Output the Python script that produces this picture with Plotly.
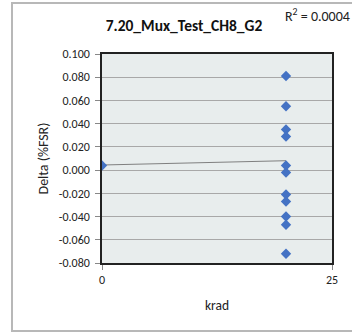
import plotly.graph_objects as go

# Data
krad_x = [0, 20, 20, 20, 20, 20, 20, 20, 20, 20, 20, 20]
delta_y = [0.004, 0.081, 0.055, 0.035, 0.029, 0.004, -0.002, -0.021, -0.027, -0.040, -0.047, -0.072]
trend_x = [0, 20]
trend_y = [0.0044, 0.0081]
y_ticks = [-0.08, -0.06, -0.04, -0.02, 0.0, 0.02, 0.04, 0.06, 0.08, 0.10]
x_ticks = [0, 25]
title_text = "7.20_Mux_Test_CH8_G2"
r2_text = "R<sup>2</sup> = 0.0004"

FONT = "Carlito, Lato, 'Open Sans', sans-serif"

fig = go.Figure()
fig.add_trace(go.Scatter(x=trend_x, y=trend_y, mode="lines",
                         line=dict(color="#7F7F7F", width=1), showlegend=False, hoverinfo="skip"))
fig.add_trace(go.Scatter(x=krad_x, y=delta_y, mode="markers",
                         marker=dict(symbol="diamond", size=8, color="#4472C4"), showlegend=False))

fig.update_layout(
    width=352, height=333,
    margin=dict(l=102, r=20, t=54, b=70),
    paper_bgcolor="white", plot_bgcolor="#E8EDED",
    font=dict(family=FONT, size=12, color="#222222"),
    title=dict(text="<b>" + title_text + "</b>", x=184 / 352, xanchor="center",
               y=1 - 26 / 333, yanchor="middle", font=dict(size=15.5, color="#111111")),
    xaxis=dict(range=[0, 25], tickvals=x_ticks, ticktext=[str(v) for v in x_ticks],
               showgrid=False, zeroline=False, showline=True, linecolor="#222222", linewidth=1.5,
               mirror=True, ticks="outside", ticklen=5, tickcolor="#888888",
               title=dict(text="krad", font=dict(size=13.5, color="#222222"), standoff=14)),
    yaxis=dict(range=[-0.08, 0.10], tickvals=y_ticks, ticktext=["%.3f" % v for v in y_ticks],
               showgrid=True, gridcolor="#A8A8A8", gridwidth=1, zeroline=False,
               showline=True, linecolor="#222222", linewidth=1.5, mirror=True,
               ticks="outside", ticklen=5, tickcolor="#888888", ticklabelstandoff=3,
               title=dict(text="Delta (%FSR)", font=dict(size=14, color="#222222"), standoff=7)),
    shapes=[dict(type="rect", xref="paper", yref="paper",
                 x0=(12 - 102) / 230, x1=(360 - 102) / 230,
                 y0=(263 - 331) / 209, y1=(263 - 3) / 209,
                 line=dict(color="#B8B8B8", width=2), fillcolor="rgba(0,0,0,0)", layer="below")],
    annotations=[dict(text=r2_text, xref="paper", yref="paper",
                      x=(352 - 102) / 230, y=(263 - 16) / 209, xanchor="right", yanchor="middle",
                      showarrow=False, font=dict(size=14, color="#222222"))],
)

fig.write_html("out.html", config={"displayModeBar": False},
               post_script="document.body.style.margin='0';")
